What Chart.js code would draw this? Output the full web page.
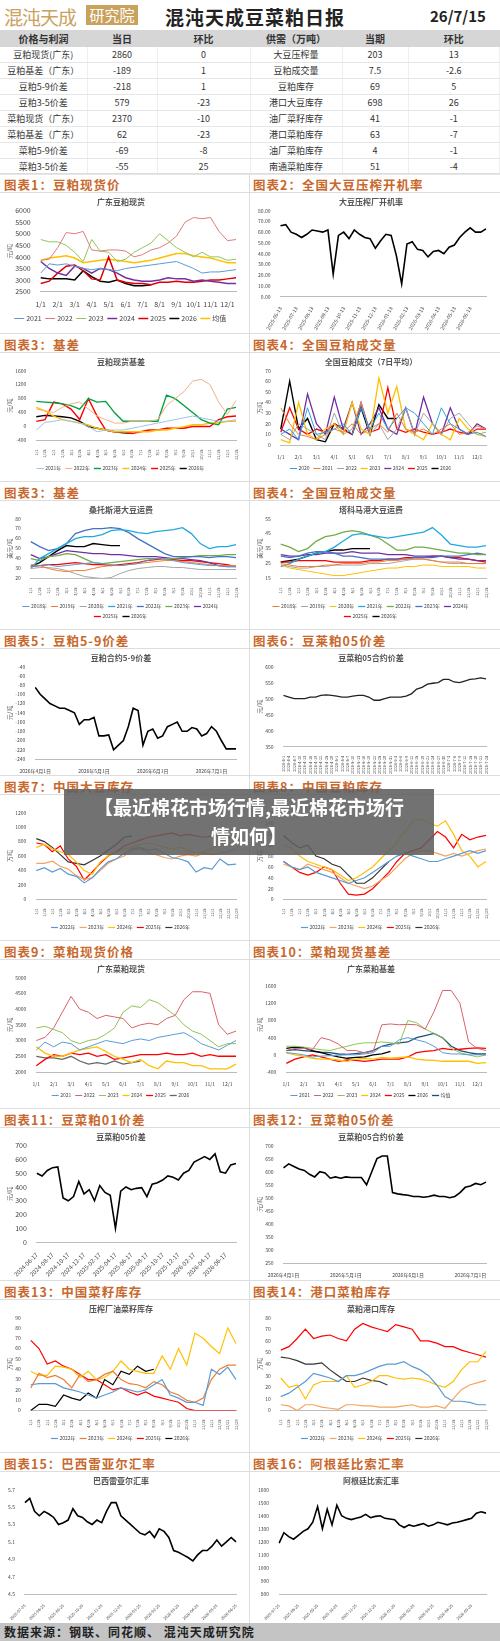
<!DOCTYPE html>
<html><head><meta charset="utf-8">
<script src="https://cdn.jsdelivr.net/npm/chart.js@4.4.1/dist/chart.umd.min.js"></script>
<style>
body{margin:0;width:500px;height:1641px;background:#fff;font-family:"Noto Sans CJK SC",sans-serif;position:relative;overflow:hidden}
.abs{position:absolute}
table{border-collapse:collapse;font-size:9px;color:#333;table-layout:fixed}
td{height:15px;line-height:14px;text-align:center;border-bottom:1px solid #e6e6e6;border-right:1px solid #eee;padding:0;overflow:hidden;white-space:nowrap}
th{background:#d6d6d6;height:17px;line-height:17px;padding:0;font-weight:bold;font-size:10px;color:#333}
.band{position:absolute;left:0;width:500px;border-top:1px solid #ddd;border-bottom:1px solid #ddd;height:18px}
.band span{position:absolute;top:1px;font-size:12.5px;font-weight:bold;color:#c8682c;letter-spacing:1px}
canvas{position:absolute}
</style></head><body>
<div class="abs" style="left:4px;top:3px;font-size:19px;color:#c9a25e;font-family:'Noto Sans CJK SC';letter-spacing:-1px">混沌天成</div>
<div class="abs" style="left:86px;top:5px;width:52px;height:20px;background:#c9a25e;color:#fff;font-size:15px;text-align:center;line-height:20px">研究院</div>
<div class="abs" style="left:165px;top:3px;font-size:19px;font-weight:bold;color:#222;letter-spacing:1px">混沌天成豆菜粕日报</div>
<div class="abs" style="left:430px;top:5px;font-size:15px;font-weight:bold;color:#222">26/7/15</div>
<table class="abs" style="left:0;top:30px;width:500px" id="tbl"></table>
<div id="sections"></div>
<div class="abs" style="left:0;top:1623px;width:500px;height:18px;background:#c4c4c4;font-size:12px;font-weight:bold;color:#222;line-height:18px;padding-left:4px;letter-spacing:1px">数据来源：钢联、同花顺、 混沌天成研究院</div>
<div class="abs" style="left:64px;top:789px;width:370px;height:63px;background:rgba(95,95,95,0.88);color:#fff;font-size:19px;font-weight:bold;text-align:center;line-height:29px;padding-top:3px;z-index:5">【最近棉花市场行情,最近棉花市场行<br>情如何】</div>
<script>
// ---- header table ----
const priceItems = ["豆粕现货(广东)", "豆粕基差（广东）", "豆粕5-9价差", "豆粕3-5价差", "菜粕现货（广东）", "菜粕基差（广东）", "菜粕5-9价差", "菜粕3-5价差"];
const priceToday = ["2860", "-189", "-218", "579", "2370", "62", "-69", "-55"];
const priceChange = ["0", "1", "1", "-23", "-10", "-23", "-8", "25"];
const supplyItems = ["大豆压榨量", "豆粕成交量", "豆粕库存", "港口大豆库存", "油厂菜籽库存", "港口菜粕库存", "油厂菜粕库存", "南通菜粕库存"];
const supplyNow = ["203", "7.5", "69", "698", "41", "63", "4", "51"];
const supplyChange = ["13", "-2.6", "5", "26", "-1", "-7", "-1", "-4"];

// ---- chart data ----
const monthTicks = ["1/1", "2/1", "3/1", "4/1", "5/1", "6/1", "7/1", "8/1", "9/1", "10/1", "11/1", "12/1"];
const c1_2021 = [3300,3700,3650,3700,3600,3500,3450,3500,3450,3400,3500,3550,3600,3650,3700,3750,3800,3650,3500,3300,3350,3350,3400,3450];
const c1_2022 = [3850,3900,4400,5050,5000,5100,4300,4250,4300,4300,4250,4000,4100,4300,4400,4600,4900,5500,5700,5650,5700,5100,4700,4750];
const c1_2023 = [4750,4650,4650,4500,4200,3800,4750,4250,4200,3800,3900,4200,4400,4600,5000,4700,4400,4200,4000,4200,4000,4000,3850,3900];
const c1_2024 = [3800,3500,3300,3200,3600,3500,3300,3500,3450,3300,3100,3000,2950,2950,3000,3100,3050,3050,2950,3000,2950,2900,2850,2850];
const c1_2025 = [2850,2950,3300,3600,3650,3400,3050,3000,4000,3000,2900,2850,2850,2800,2900,2900,2950,2900,2900,2950,3000,3000,3050,3100];
const c1_2026 = [3100,3050,3050,3050,3000,3400,3150,2950,2900,3000,2850,2750,2750,2800];
const c1_avg = [3850,3950,4000,4050,3950,3750,3800,3850,3900,3850,3800,3750,3800,3850,3950,4050,4150,4150,4050,4000,3950,3850,3750,3750];

const c2_dates = ["2025-06-13","2025-07-13","2025-08-13","2025-09-13","2025-10-13","2025-11-13","2025-12-13","2026-01-13","2026-02-13","2026-03-13","2026-04-13","2026-05-13","2026-06-13"];
const c2_rate = [66,67,60,58,55,58,62,61,60,62,21,57,60,54,62,58,55,54,45,52,58,57,38,12,49,51,44,43,37,42,43,40,46,48,55,60,64,60,60,63];

const c3_2021 = [-100,120,150,200,150,100,0,-150,-100,-100,-100,-50,0,50,100,150,200,250,300,250,200,150,150,200];
const c3_2022 = [500,450,400,550,650,700,500,300,200,100,100,150,150,150,200,600,800,1000,1300,1350,1200,700,350,750];
const c3_2023 = [720,700,680,650,600,500,800,700,720,400,150,150,150,150,150,900,800,600,400,200,100,50,500,550];
const c3_2024 = [550,450,300,200,150,100,50,-50,-100,-150,-150,-150,-150,-150,-100,-100,-50,0,50,50,100,100,150,150];
const c3_2025 = [150,200,700,650,500,200,800,300,-100,-150,-150,-200,-150,-100,-100,-50,-50,-50,0,0,0,200,280,300];
const c3_2026 = [280,320,300,280,250,150,0,-50,-100,-150,-180,-190];

const c4_2020 = [10,15,5,35,10,12,15,20,10,35,15,30,15,25,35,30,20,10,35,20,15,10,12,8];
const c4_2021 = [35,20,10,8,5,10,15,12,20,10,15,20,12,30,15,12,15,10,15,20,10,12,18,15];
const c4_2022 = [10,5,20,15,10,5,30,10,15,40,10,20,5,15,35,10,30,20,10,25,30,20,10,12];
const c4_2023 = [5,2,40,10,5,15,20,10,40,15,10,63,30,55,15,10,5,20,10,5,25,15,10,8];
const c4_2024 = [15,10,5,48,20,10,45,15,40,10,20,35,15,10,35,10,45,20,10,35,15,10,20,15];
const c4_2025 = [12,35,15,10,15,12,20,15,10,40,12,15,54,15,12,15,12,10,12,15,12,10,15,15];
const c4_2026 = [15,60,15,25,5,3,20,15,10,35,10,38,25,25];

const sf_2018 = [32,33,34,32,33,34,35,36,35,34,33,34,35,38,40,40,38,36,35,34,33,33,32,32];
const sf_2019 = [34,33,30,28,27,28,28,30,32,33,33,34,35,36,37,38,38,37,36,35,34,33,33,33];
const sf_2020 = [30,31,31,30,28,25,22,21,20,21,25,28,30,31,32,32,31,31,30,29,29,29,29,29];
const sf_2021 = [30,40,45,50,55,60,62,62,64,68,69,68,66,65,67,68,69,71,65,55,50,52,52,54];
const sf_2022 = [57,52,48,50,55,65,68,70,70,71,70,66,60,55,50,45,42,42,42,42,41,42,42,41];
const sf_2023 = [40,38,42,43,45,44,40,36,35,36,37,38,39,40,40,40,40,41,42,43,43,43,44,44];
const sf_2024 = [44,40,42,45,48,47,46,45,45,44,44,43,42,42,42,41,40,40,39,38,36,33,32,32];
const sf_2025 = [32,33,34,34,35,36,35,34,34,33,34,35,36,38,39,40,39,38,38,37,36,35,34,32];
const sf_2026 = [32,36,42,48,53,52,52,55,54,53,53];

const tf_2018 = [25,24,23,23,23,24,24,25,25,25,26,26,27,27,28,28,28,27,26,26,26,25,25,25];
const tf_2019 = [24,23,22,22,23,23,24,24,24,24,25,25,25,26,27,28,28,27,26,25,25,25,25,25];
const tf_2020 = [24,22,21,20,19,18,17,17,18,19,20,21,22,22,23,23,24,24,23,23,23,23,22,22];
const tf_2021 = [23,25,28,30,32,33,36,40,44,45,44,43,42,43,44,45,46,49,44,38,37,36,36,37];
const tf_2022 = [38,36,33,35,40,43,44,46,47,46,44,42,38,34,34,36,36,35,34,33,32,32,31,31];
const tf_2023 = [30,29,30,32,33,33,32,30,30,29,28,28,28,28,28,29,29,29,30,30,30,31,32,31];
const tf_2024 = [31,30,30,31,31,32,32,32,33,32,32,32,31,31,31,30,30,30,30,29,28,28,27,27];
const tf_2025 = [26,26,27,27,27,27,26,26,26,26,27,27,28,28,29,29,29,30,30,29,29,28,27,26];
const tf_2026 = [26,27,28,30,32,33,34,34,35,35,35];

const spreadDates = ["2026年4月1日", "2026年5月1日", "2026年6月1日", "2026年7月1日"];
const c5_spread = [-85,-100,-110,-120,-125,-130,-130,-135,-140,-165,-155,-155,-150,-190,-190,-188,-220,-210,-200,-170,-130,-135,-210,-180,-175,-195,-190,-170,-165,-160,-180,-180,-172,-175,-190,-185,-170,-180,-200,-218,-218,-218];
const c6_spread = [510,505,500,500,500,505,505,510,512,510,508,505,505,508,510,510,505,495,495,500,505,505,505,508,515,530,535,545,548,550,560,560,552,550,555,560,562,565,562];

const c7_2022 = [400,440,380,430,350,320,230,300,420,520,560,640,700,720,680,700,640,580,560,520,380,440,420,560,480,490];
const c7_2023 = [500,500,530,460,420,330,280,300,400,500,560,600,680,700,650,620,580,560,600,620,600,640,620,640,660,700];
const c7_2024 = [720,760,700,660,620,520,400,350,520,600,650,700,720,760,780,760,720,700,720,680,640,660,700,780,780,780];
const c7_2025 = [780,760,660,740,560,460,270,380,500,600,660,740,780,820,860,880,900,920,880,900,880,860,880,900,860,840];
const c7_2026 = [840,800,720,620,520,500,480,540,600,680,760,860,880];

const c8_2022 = [70,60,55,60,50,45,40,35,30,35,40,50,60,70,80,85,80,75,70,70,75,80,85,90,85,90];
const c8_2023 = [65,60,55,65,60,55,50,40,30,25,20,25,35,45,60,75,85,90,90,85,80,85,80,85,90,93];
const c8_2024 = [100,95,80,70,65,60,55,45,35,40,50,60,75,90,105,125,145,148,140,135,145,120,90,80,60,70];
const c8_2025 = [70,60,50,45,50,60,55,30,10,8,10,20,35,50,70,85,90,95,110,125,115,95,120,110,115,118];
const c8_2026 = [118,105,95,100,80,75,65,60,45,30,30,40,55,70];

const c9_2021 = [2700,2950,2800,2950,2900,2700,2800,2900,3000,2950,2900,3000,3050,3000,3100,3150,3200,3250,3100,2900,2800,2700,2850,3000];
const c9_2022 = [3000,3100,3400,3900,4400,4000,3900,3700,3800,3750,3700,3400,3500,3550,3500,3700,3800,4300,4550,4550,4500,3500,3200,3300];
const c9_2023 = [3400,3450,3350,3250,3000,2900,3000,3050,3200,3400,3900,4100,4050,4300,4200,4000,3800,3500,3300,3200,3000,2800,2900,2900];
const c9_2024 = [2800,2600,2500,2500,2600,2700,2750,2800,2650,2500,2400,2300,2400,2200,2100,2350,2300,2300,2200,2200,2100,2100,2100,2250];
const c9_2025 = [2200,2400,2550,2500,2600,2550,2600,2500,2550,2400,2450,2500,2550,2550,2550,2600,2550,2550,2600,2500,2550,2500,2500,2500];
const c9_2026 = [2500,2450,2450,2400,2500,2350,2250,2300,2250,2350,2250,2300,2350];

const c10_2021 = [50,30,0,-50,-30,-20,-10,0,0,20,50,200,200,350,400,350,300,200,50,20,20,0,0,0];
const c10_2022 = [100,150,150,120,400,350,250,100,100,50,80,700,720,700,710,700,600,1000,1500,1500,1200,300,150,100];
const c10_2023 = [200,200,180,150,120,100,150,200,250,280,280,300,280,250,800,750,600,500,400,150,50,0,-50,0];
const c10_2024 = [50,0,-30,-80,-100,-100,-120,-150,-100,-80,-100,-60,-80,-60,-50,-100,-120,-130,-150,-150,-150,-150,-200,-180];
const c10_2025 = [-200,-100,-50,0,-50,-100,-150,-120,-130,-150,-130,-100,-100,-100,-50,50,80,100,150,120,130,150,160,150];
const c10_2026 = [150,180,170,100,50,0,-50,-80,-60,-50,0,20,80];
const c10_avg = [100,120,100,80,60,50,20,10,30,50,100,200,250,280,300,400,450,500,400,200,100,50,20,20];

const c11_dates = ["2024-06-17","2024-08-17","2024-10-17","2024-12-17","2025-02-17","2025-04-17","2025-06-17","2025-08-17","2025-10-17","2025-12-17","2026-02-17","2026-04-17","2026-06-17"];
const c11_spread = [500,480,520,540,545,320,300,330,440,350,380,300,410,360,340,100,370,400,380,390,395,330,420,430,450,480,470,450,500,520,580,600,620,600,640,510,500,560,570];
const c12_spread = [615,630,620,610,605,590,580,600,595,575,580,575,580,578,578,578,550,600,650,660,660,520,515,512,510,505,505,502,505,510,505,505,500,505,520,540,545,555,550,560];

const c13_2022 = [25,26,26,26,22,20,18,15,12,15,18,22,20,18,20,25,30,15,12,8,8,5,40,35,42,30];
const c13_2023 = [22,36,32,34,30,22,35,28,30,35,38,30,26,25,22,28,25,18,15,10,8,12,30,40,44,44];
const c13_2024 = [38,34,34,43,42,40,32,38,30,32,38,48,40,38,36,36,53,40,60,44,75,70,62,55,80,65];
const c13_2025 = [68,60,45,48,43,40,35,30,30,25,20,22,18,15,18,14,12,10,8,2,0,0,0,0,0,0];
const c13_2026 = [0,6,6,4,15,12,10,17,12,30,25,38,35,43,38,40];

const c14_2022 = [12,15,20,25,32,30,28,25,30,30,32,35,38,40,40,42,38,35,30,22,12,8,8,7,5,5];
const c14_2023 = [5,4,0,5,5,3,2,1,5,5,4,4,3,3,3,4,5,3,3,4,2,10,18,22,24,26];
const c14_2024 = [28,20,22,10,22,25,25,25,30,20,22,25,30,30,28,27,28,27,25,22,20,25,35,42,42,51];
const c14_2025 = [52,55,62,70,62,64,65,62,60,70,75,72,70,68,74,72,70,60,60,58,55,55,52,50,48,46];
const c14_2026 = [46,45,43,40,40,41,35,30,25,25,28,26,25,22];

const c15_dates = ["2025-07-25","2025-08-25","2025-09-25","2025-10-25","2025-11-25","2025-12-25","2026-01-25","2026-02-25","2026-03-25","2026-04-25","2026-05-25","2026-06-25"];
const c15_brl = [5.55,5.6,5.45,5.4,5.45,5.42,5.38,5.3,5.32,5.35,5.48,5.4,5.38,5.33,5.3,5.35,5.32,5.45,5.55,5.55,5.4,5.35,5.3,5.25,5.2,5.18,5.22,5.15,5.25,5.22,5.15,5.0,4.98,4.95,4.92,4.88,4.95,5.0,5.0,5.05,5.12,5.05,5.1,5.15,5.1];
const c16_dates = ["2025-07-25","2025-08-25","2025-09-25","2025-10-25","2025-11-25","2025-12-25","2026-01-25","2026-02-25","2026-03-25","2026-04-25","2026-05-25","2026-06-25"];
const c16_ars = [1190,1270,1240,1220,1250,1280,1300,1350,1470,1300,1450,1330,1480,1400,1380,1370,1380,1390,1410,1385,1395,1400,1380,1375,1370,1330,1310,1330,1320,1330,1340,1320,1330,1350,1340,1330,1345,1350,1360,1370,1380,1420,1430,1420];

// ---- build header table ----
const tbl = document.getElementById("tbl");
let html = "<colgroup><col style='width:87px'><col style='width:70px'><col style='width:93px'><col style='width:92px'><col style='width:66px'><col></colgroup>";
html += "<tr><th>价格与利润</th><th>当日</th><th>环比</th><th>供需（万吨）</th><th>当期</th><th>环比</th></tr>";
priceItems.forEach((p, i) => {
	html += `<tr><td>${p}</td><td>${priceToday[i]}</td><td>${priceChange[i]}</td><td>${supplyItems[i]}</td><td>${supplyNow[i]}</td><td>${supplyChange[i]}</td></tr>`;
});
tbl.innerHTML = html;

// ---- section bands and canvases ----
const sections = [
	[173, "图表1：豆粕现货价", "图表2：全国大豆压榨开机率", 141, "c1", "c2"],
	[333, "图表3：基差", "图表4：全国豆粕成交量", 130, "c3", "c4"],
	[481, "图表3：基差", "图表4：全国豆粕成交量", 130, "c3b", "c4b"],
	[629, "图表5：豆粕5-9价差", "图表6：豆莱粕05价差", 128, "c5", "c6"],
	[775, "图表7：中国大豆库存", "图表8：中国豆粕库存", 147, "c7", "c8"],
	[940, "图表9：菜粕现货价格", "图表10：菜粕现货基差", 150, "c9", "c10"],
	[1108, "图表11：豆菜粕01价差", "图表12：豆菜粕05价差", 153, "c11", "c12"],
	[1280, "图表13：中国菜籽库存", "图表14：港口菜粕库存", 153, "c13", "c14"],
	[1452, "图表15：巴西雷亚尔汇率", "图表16：阿根廷比索汇率", 152, "c15", "c16"],
];
const secDiv = document.getElementById("sections");
sections.forEach(([top, t1, t2, h, id1, id2]) => {
	secDiv.insertAdjacentHTML("beforeend",
		`<div class="band" style="top:${top}px"><span style="left:4px">${t1}</span><span style="left:253px">${t2}</span></div>
		<div class="abs" style="left:249px;top:${top}px;width:1px;height:${h + 19}px;background:#ddd"></div>
		<canvas id="${id1}" width="240" height="${h - 2}" style="left:4px;top:${top + 20}px"></canvas>
		<canvas id="${id2}" width="240" height="${h - 2}" style="left:254px;top:${top + 20}px"></canvas>`);
});

// ---- chart helpers ----
const FONT = "'Noto Sans CJK SC', sans-serif";
function halfMonthLabels(n) {
	const out = [];
	for (let i = 0; i < n; i++) out.push(i % 2 === 0 ? monthTicks[i / 2] : "");
	return out;
}
function spacedLabels(n, ticks, step) {
	const out = new Array(n).fill("");
	ticks.forEach((t, i) => { if (i * step < n) out[i * step] = t; });
	return out;
}
function lineChart(id, o) {
	const ctx = document.getElementById(id).getContext("2d");
	return new Chart(ctx, {
		type: "line",
		data: {
			labels: o.labels,
			datasets: o.series.map(([label, data, color, w]) => ({
				label, data, borderColor: color, backgroundColor: color,
				borderWidth: w || 1, pointRadius: 0, pointStyle: "line", tension: 0,
			})),
		},
		options: {
			responsive: false,
			animation: false,
			layout: { padding: { left: 2, right: 8, top: 0, bottom: 0 } },
			plugins: {
				title: { display: true, text: o.title, color: "#555", font: { size: 8, family: FONT }, padding: { top: 4, bottom: 4 } },
				legend: {
					display: o.legend !== false, position: "bottom",
					labels: { usePointStyle: true, color: "#444", font: { size: o.legendSize || 7, family: FONT }, padding: 5, boxWidth: 14 },
				},
				tooltip: { enabled: false },
			},
			scales: {
				x: {
					grid: { display: false },
					border: { color: "#bbb" },
					ticks: { autoSkip: false, maxRotation: o.rot || 0, minRotation: o.rot || 0, color: "#444", font: { size: o.xSize || 7, family: FONT }, padding: 1 },
				},
				y: {
					min: o.min, max: o.max,
					border: { display: false },
					grid: { display: !!o.ygrid, color: "#e8e8e8" },
					title: { display: !!o.unit, text: o.unit, font: { size: 6, family: FONT }, color: "#555", padding: 0 },
					ticks: { stepSize: o.step, color: "#444", font: { size: o.ySize || 6, family: FONT }, padding: 2, callback: o.yfmt || ((v) => v) },
				},
			},
		},
	});
}
const yrCol = { "2021": "#5b9bd5", "2022": "#e07b7b", "2023": "#8fc75b", "2024": "#7030a0", "2025": "#e00000", "2026": "#000000", avg: "#ffc000" };
const L24 = halfMonthLabels(24);
const dense24 = [];
for (let i = 0; i < 24; i++) dense24.push(`${Math.floor(i / 2) + 1}/${i % 2 ? 15 : 1}`);
const dense26 = dense24.concat(["12/22", "12/29"]);

lineChart("c1", { title: "广东豆粕现货", labels: L24, min: 2500, max: 6000, step: 500, unit: "元/吨", ySize: 7, xSize: 7, legendSize: 7,
	series: [["2021", c1_2021, yrCol["2021"]], ["2022", c1_2022, yrCol["2022"]], ["2023", c1_2023, yrCol["2023"]], ["2024", c1_2024, yrCol["2024"], 1.5],
		["2025", c1_2025, yrCol["2025"], 1.5], ["2026", c1_2026, "#000", 1.5], ["均值", c1_avg, yrCol.avg, 1.5]] });

lineChart("c2", { title: "大豆压榨厂开机率", labels: spacedLabels(c2_rate.length, c2_dates, 3), min: 0, max: 80, step: 10, rot: 60, xSize: 5, ySize: 5, legend: false,
	yfmt: (v) => v.toFixed(2), series: [["开机率", c2_rate, "#000", 1.6]] });

lineChart("c3", { title: "豆粕现货基差", labels: dense24, min: -400, max: 1600, step: 200, rot: 90, xSize: 4, ySize: 5, unit: "元/吨", legendSize: 5,
	series: [["2021年", c3_2021, "#9dc3e6"], ["2022年", c3_2022, "#f4b183"], ["2023年", c3_2023, "#00a040", 1.4], ["2024年", c3_2024, "#ffc000", 1.4],
		["2025年", c3_2025, "#ff0000", 1.4], ["2026年", c3_2026, "#000", 1.4]] });

lineChart("c4", { title: "全国豆粕成交（7日平均）", labels: L24, min: 0, max: 70, step: 10, xSize: 5, ySize: 5, unit: "万吨", legendSize: 5,
	series: [["2020", c4_2020, "#2e9fe6"], ["2021", c4_2021, "#ed7d31"], ["2022", c4_2022, "#a5a5a5"], ["2023", c4_2023, "#ffc000", 1.3],
		["2024", c4_2024, "#7030a0", 1.3], ["2025", c4_2025, "#ff0000", 1.3], ["2026", c4_2026, "#000", 1.4]] });

lineChart("c3b", { title: "桑托斯港大豆运费", labels: dense24, min: 20, max: 80, step: 10, rot: 90, xSize: 4, ySize: 5, unit: "美元/吨", legendSize: 5,
	series: [["2018年", sf_2018, "#5b9bd5"], ["2019年", sf_2019, "#ed7d31"], ["2020年", sf_2020, "#a5a5a5"], ["2021年", sf_2021, "#1fa9e0", 1.3], ["2022年", sf_2022, "#4472c4", 1.3],
		["2023年", sf_2023, "#70ad47", 1.3], ["2024年", sf_2024, "#7030a0", 1.3], ["2025年", sf_2025, "#ff0000", 1.3], ["2026年", sf_2026, "#000", 1.4]] });

lineChart("c4b", { title: "塔科马港大豆运费", labels: dense24, min: 15, max: 55, step: 5, rot: 90, xSize: 4, ySize: 5, unit: "美元/吨", legendSize: 5,
	series: [["2018年", tf_2018, "#ed7d31"], ["2019年", tf_2019, "#a5a5a5"], ["2020年", tf_2020, "#ffc000"], ["2021年", tf_2021, "#1fa9e0", 1.3], ["2022年", tf_2022, "#70ad47", 1.3],
		["2023年", tf_2023, "#4472c4", 1.3], ["2024年", tf_2024, "#7030a0", 1.3], ["2025年", tf_2025, "#ff0000", 1.3], ["2026年", tf_2026, "#000", 1.4]] });

lineChart("c5", { title: "豆粕合约5-9价差", labels: spacedLabels(c5_spread.length, spreadDates, 12), min: -240, max: -40, step: 20, xSize: 5, ySize: 5, unit: "元/吨", legend: false,
	series: [["5-9价差", c5_spread, "#000", 1.6]] });

const c6Labels = c6_spread.map((_, i) => {
	const d = new Date(2026, 3, 1 + i * 3);
	return `2026-${d.getMonth() + 1}-${d.getDate()}`;
});
lineChart("c6", { title: "豆菜粕05合约价差", labels: c6Labels, min: 350, max: 600, step: 50, rot: 90, xSize: 4, ySize: 5, unit: "元/吨", legend: false,
	series: [["05价差", c6_spread, "#222", 1.3]] });

const yr5 = [["2022年", "#5b9bd5"], ["2023年", "#f4a460"], ["2024年", "#ffc000"], ["2025年", "#ff0000"], ["2026年", "#333"]];
lineChart("c7", { title: "", labels: dense26, min: 0, max: 1200, step: 200, rot: 90, xSize: 4, ySize: 5, unit: "万吨", legendSize: 5,
	series: [c7_2022, c7_2023, c7_2024, c7_2025, c7_2026].map((d, i) => [yr5[i][0], d, yr5[i][1], 1.2]) });
lineChart("c8", { title: "", labels: dense26, min: 0, max: 160, step: 20, rot: 90, xSize: 4, ySize: 5, unit: "万吨", legendSize: 5,
	series: [c8_2022, c8_2023, c8_2024, c8_2025, c8_2026].map((d, i) => [yr5[i][0], d, yr5[i][1], 1.2]) });

lineChart("c9", { title: "广东菜粕现货", labels: L24, min: 2000, max: 5000, step: 500, xSize: 5, ySize: 5, unit: "元/吨", legendSize: 5,
	series: [["2021", c9_2021, "#5b9bd5"], ["2022", c9_2022, "#d9626b"], ["2023", c9_2023, "#92c353"], ["2024", c9_2024, "#ffc000", 1.3],
		["2025", c9_2025, "#ff0000", 1.3], ["2026", c9_2026, "#666", 1.3]] });
lineChart("c10", { title: "广东菜粕基差", labels: L24, min: -400, max: 1800, step: 200, xSize: 5, ySize: 5, unit: "元/吨", legendSize: 5,
	series: [["2021", c10_2021, "#5b9bd5"], ["2022", c10_2022, "#d9626b"], ["2023", c10_2023, "#92c353"], ["2024", c10_2024, "#ffc000", 1.3],
		["2025", c10_2025, "#ff0000", 1.3], ["2026", c10_2026, "#000", 1.3], ["均值", c10_avg, "#1f4e79", 1.3]] });

lineChart("c11", { title: "豆菜粕05价差", labels: spacedLabels(c11_spread.length, c11_dates, 3), min: 0, max: 700, step: 100, rot: 45, xSize: 6, ySize: 7, unit: "元/吨", legend: false,
	series: [["05价差", c11_spread, "#000", 1.6]] });
lineChart("c12", { title: "豆菜粕05合约价差", labels: spacedLabels(c12_spread.length, spreadDates, 12), min: 250, max: 700, step: 50, xSize: 5, ySize: 5, unit: "元/吨", legend: false,
	series: [["05价差", c12_spread, "#000", 1.6]] });

lineChart("c13", { title: "压榨厂油菜籽库存", labels: dense26, min: 0, max: 90, step: 10, rot: 90, xSize: 4, ySize: 5, unit: "万吨", legendSize: 5,
	series: [c13_2022, c13_2023, c13_2024, c13_2025, c13_2026].map((d, i) => [yr5[i][0], d, ["#5b9bd5", "#ed7d31", "#ffc000", "#ff0000", "#000"][i], 1.2]) });
lineChart("c14", { title: "菜粕港口库存", labels: dense26, min: 0, max: 80, step: 10, rot: 90, xSize: 4, ySize: 5, unit: "万吨", legendSize: 5,
	series: [c14_2022, c14_2023, c14_2024, c14_2025, c14_2026].map((d, i) => [yr5[i][0], d, ["#5b9bd5", "#f4a460", "#ffc000", "#ff0000", "#333"][i], 1.2]) });

lineChart("c15", { title: "巴西雷亚尔汇率", labels: spacedLabels(c15_brl.length, c15_dates, 4), min: 4.5, max: 5.7, step: 0.2, rot: 45, xSize: 4, ySize: 5, legend: false,
	yfmt: (v) => (Math.round(v * 10) / 10).toString(), series: [["BRL", c15_brl, "#000", 1.6]] });
lineChart("c16", { title: "阿根廷比索汇率", labels: spacedLabels(c16_ars.length, c16_dates, 4), min: 800, max: 1600, step: 100, rot: 45, xSize: 4, ySize: 5, legend: false,
	series: [["ARS", c16_ars, "#000", 1.6]] });
</script>
</body></html>
